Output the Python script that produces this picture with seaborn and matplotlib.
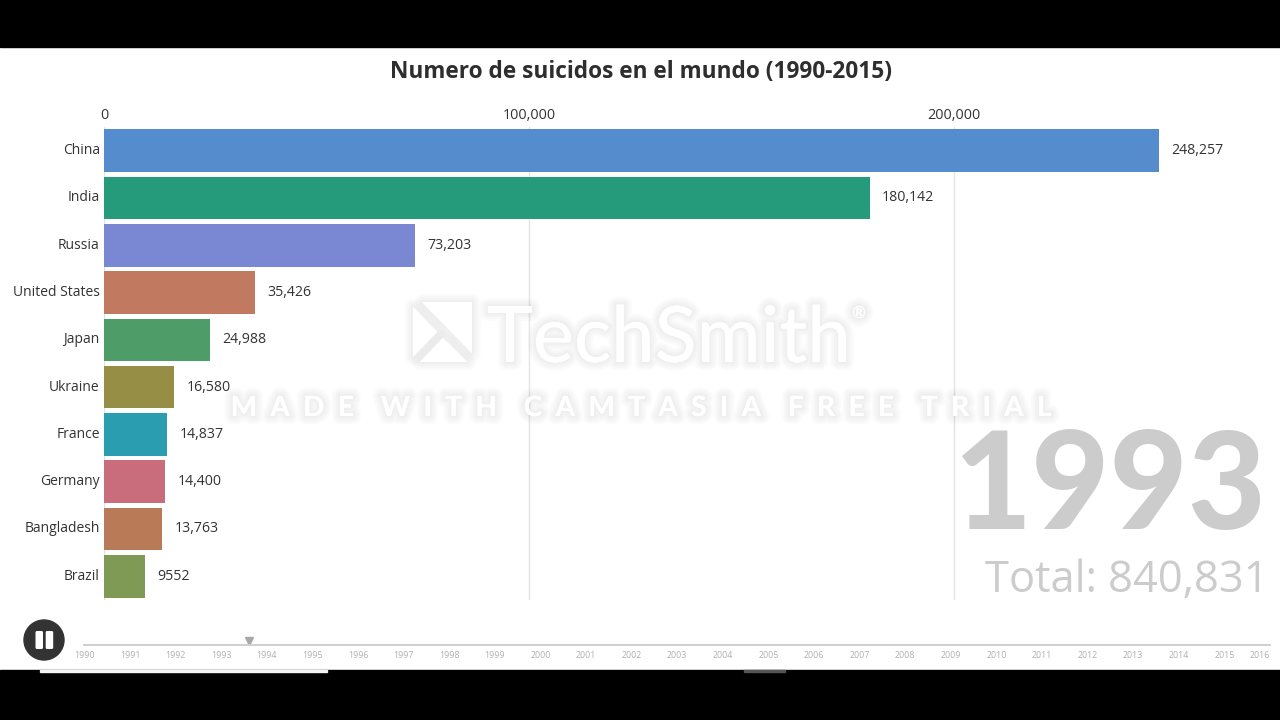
import matplotlib
matplotlib.use("Agg")
import matplotlib.pyplot as plt
import matplotlib.patheffects as pe
from matplotlib.patches import Rectangle, Polygon, Ellipse, FancyBboxPatch
from matplotlib.transforms import ScaledTranslation
import pandas as pd
import seaborn as sns

countries = ["China", "India", "Russia", "United States", "Japan",
             "Ukraine", "France", "Germany", "Bangladesh", "Brazil"]
suicides = [248257, 180142, 73203, 35426, 24988, 16580, 14837, 14400, 13763, 9552]
value_labels = ["248,257", "180,142", "73,203", "35,426", "24,988",
                "16,580", "14,837", "14,400", "13,763", "9552"]
bar_colors = ["#558ccd", "#259b7c", "#7a88d4", "#c17a5f", "#4e9c68",
              "#978e45", "#2a9db1", "#c96c7c", "#b97a58", "#7f9a54"]
value_ticks = [0, 100000, 200000]
value_tick_labels = ["0", "100,000", "200,000"]
timeline_years = list(range(1990, 2017))
current_time = 1993.6
title = "Numero de suicidos en el mundo (1990-2015)"

W, H = 1280, 720
sns.set_theme(style="white")
plt.rcParams["font.family"] = ["Open Sans", "DejaVu Sans"]
INK = "#333333"

fig = plt.figure(figsize=(W / 100, H / 100), dpi=100, facecolor="white")


def rect(left, top, right, bottom):
    return [left / W, 1 - bottom / H, (right - left) / W, (bottom - top) / H]


# Ranked bars
ax = fig.add_axes(rect(104, 127, 1280, 600), facecolor="none")
table = pd.DataFrame({"country": countries, "suicides": suicides})
sns.barplot(data=table, x="suicides", y="country", hue="country",
            palette=bar_colors, order=countries, hue_order=countries,
            legend=False, width=0.9, saturation=1, linewidth=0, ax=ax, zorder=3)
ax.set_xlim(0, (1280 - 104) / 425 * 100000)
ax.set_ylim(9.5, -0.5)
ax.set_xlabel("")
ax.set_ylabel("")
ax.xaxis.tick_top()
ax.set_xticks(value_ticks, value_tick_labels)
ax.tick_params(axis="x", length=0, pad=3, labelsize=10.4, labelcolor=INK)
ax.tick_params(axis="y", length=0, pad=3, labelsize=10, labelcolor=INK)
ax.grid(axis="x", color="#e4e4e4", linewidth=1)
ax.grid(axis="y", visible=False)
ax.set_axisbelow(True)
for spine in ax.spines.values():
    spine.set_visible(False)
for i, (value, text) in enumerate(zip(suicides, value_labels)):
    ax.annotate(text, (value, i), xytext=(9, 1.5), textcoords="offset points",
                va="center_baseline", ha="left", fontsize=10.2, color=INK)
# Country names sit slightly above the bar centres
raise_labels = ScaledTranslation(0, 1.5 / 72, fig.dpi_scale_trans)
for label in ax.get_yticklabels():
    label.set_verticalalignment("center_baseline")
    label.set_transform(label.get_transform() + raise_labels)

# Overlay in pixel units for the page furniture
page = fig.add_axes([0, 0, 1, 1], facecolor="none")
page.set_xlim(0, W)
page.set_ylim(H, 0)
page.axis("off")

page.add_patch(Rectangle((0, 0), W, 47, color="black"))
page.add_patch(Rectangle((0, 670), W, 50, color="black"))
page.add_patch(Rectangle((40, 670), 287, 2, color="#f4f4f4"))
page.add_patch(Rectangle((744, 670), 41, 2, color="#555555"))

page.text(641.5, 72, title, ha="center", va="center", fontsize=16.3,
          fontweight="bold", color="#2e2e2e")

page.text(1266, 529, "1993", ha="right", va="baseline", fontsize=97,
          family=["Lato", "DejaVu Sans"], fontweight="black", color="#cccccc")
page.text(1269, 592, "Total: 840,831", ha="right", va="baseline", fontsize=31.3,
          color="#cccccc")

# Trial watermark: white lettering on a soft grey halo
halo = [pe.withStroke(linewidth=w, foreground="#000000", alpha=0.016, joinstyle="round")
        for w in (12, 9, 6, 3)]
halo.append(pe.Normal())
page.text(487, 362, "TechSmith", ha="left", va="baseline", fontsize=56,
          family="Lato", color="white", path_effects=halo)
page.text(859, 313, "®", ha="center", va="center", fontsize=12, family="Lato",
          color="white", path_effects=halo)
caption = "    ".join("  ".join(word) for word in ["MADE", "WITH", "CAMTASIA", "FREE", "TRIAL"])
page.text(641, 408, caption, ha="center", va="center", fontsize=20, family="Lato",
          fontweight="bold", color="white", path_effects=halo)
for points in ([(422, 302), (472, 302), (472, 353)],
               [(413, 307), (413, 357), (437, 332)],
               [(420, 362), (467, 362), (443, 338)]):
    poly = Polygon(points, closed=True, facecolor="white", edgecolor="none", zorder=4)
    poly.set_path_effects(halo)
    page.add_patch(poly)

# Play control
page.add_patch(Ellipse((44, 640), 40, 40, color="#333333"))
for left in (35.5, 45.7):
    page.add_patch(FancyBboxPatch((left, 631), 7.5, 18, boxstyle="round,pad=0,rounding_size=1.5",
                                  facecolor="white", edgecolor="none"))

# Timeline slider
line = fig.add_axes(rect(84.5, 630, 1270, 645), facecolor="none")
line.set_xlim(timeline_years[0], timeline_years[-1])
line.set_ylim(0, 1)
line.set_yticks([])
for side in ("top", "left", "right"):
    line.spines[side].set_visible(False)
line.spines["bottom"].set_color("#cfcfcf")
line.spines["bottom"].set_linewidth(1.4)
line.set_xticks(timeline_years, [str(y) for y in timeline_years])
line.tick_params(axis="x", direction="out", length=3, width=1, color="#bdbdbd",
                 pad=1.5, labelsize=6.4, labelcolor="#b0b0b0")
line.get_xticklabels()[-1].set_horizontalalignment("right")
line.plot([current_time], [0.27], marker="v", markersize=6, color="#a8a8a8",
          linestyle="none", clip_on=False)

fig.savefig("out.png", dpi=100)
